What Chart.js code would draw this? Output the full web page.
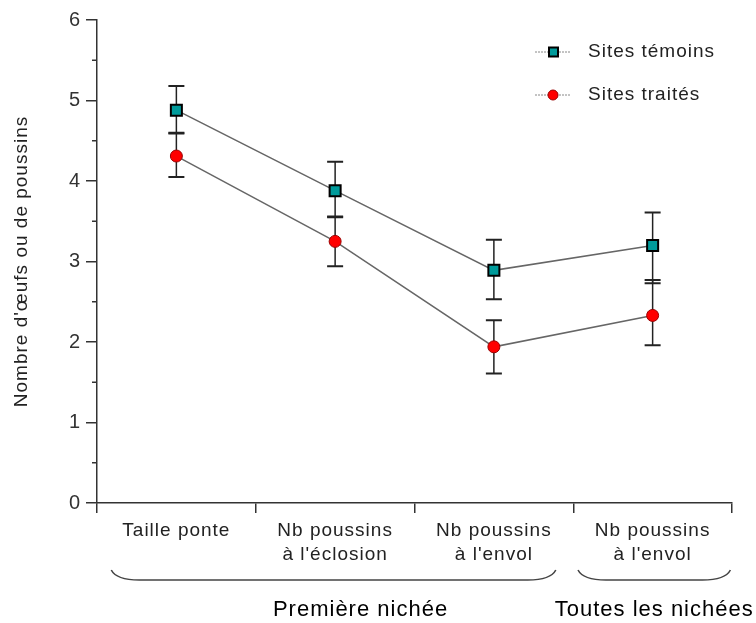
<!DOCTYPE html>
<html>
<head>
  <title>Nombre d'oeufs ou de poussins</title>
  <script src="https://cdn.jsdelivr.net/npm/chart.js"></script>
  <style>
    body { margin: 0; background: #fff; }
    #wrap { width: 756px; height: 623px; }
  </style>
</head>
<body>
  <div id="wrap"><canvas id="nichees" width="756" height="623"></canvas></div>

  <script>
    const categories = [['Taille ponte'], ['Nb poussins', "à l'éclosion"], ['Nb poussins', "à l'envol"], ['Nb poussins', "à l'envol"]];
    const temoins = [4.88, 3.88, 2.89, 3.20];
    const temoinsHigh = [5.18, 4.24, 3.27, 3.61];
    const temoinsLow = [4.60, 3.55, 2.53, 2.73];
    const traites = [4.31, 3.25, 1.94, 2.33];
    const traitesHigh = [4.59, 3.56, 2.27, 2.77];
    const traitesLow = [4.05, 2.94, 1.61, 1.96];
    const groups = [
      { label: 'Première nichée', from: 0, to: 2 },
      { label: 'Toutes les nichées', from: 3, to: 3 }
    ];

    const errors = [
      { high: temoinsHigh, low: temoinsLow },
      { high: traitesHigh, low: traitesLow }
    ];

    const extras = {
      id: 'extras',
      beforeLayout(chart) { chart.ctx.letterSpacing = '1px'; },
      beforeDraw(chart) { chart.ctx.letterSpacing = '1px'; },
      beforeDatasetsDraw(chart) {
        const ctx = chart.ctx, x = chart.scales.x, y = chart.scales.y;
        ctx.save();
        ctx.strokeStyle = '#222';
        errors.forEach(e => {
          e.high.forEach((hi, i) => {
            const px = x.getPixelForValue(i);
            const top = y.getPixelForValue(hi), bot = y.getPixelForValue(e.low[i]);
            ctx.lineWidth = 1.5;
            ctx.beginPath(); ctx.moveTo(px, top); ctx.lineTo(px, bot); ctx.stroke();
            ctx.lineWidth = 2;
            ctx.beginPath();
            ctx.moveTo(px - 8, top); ctx.lineTo(px + 8, top);
            ctx.moveTo(px - 8, bot); ctx.lineTo(px + 8, bot);
            ctx.stroke();
          });
        });
        ctx.restore();
      },
      afterDraw(chart) {
        const ctx = chart.ctx, x = chart.scales.x, y = chart.scales.y;
        const axisY = chart.chartArea.bottom;
        ctx.save();
        // minor ticks on y
        ctx.strokeStyle = '#333';
        ctx.lineWidth = 1.5;
        for (let v = 0.5; v < 6; v += 1) {
          const py = y.getPixelForValue(v);
          ctx.beginPath(); ctx.moveTo(x.left - 5, py); ctx.lineTo(x.left, py); ctx.stroke();
        }
        // braces under category groups
        const step = x.getPixelForValue(1) - x.getPixelForValue(0);
        const braceTop = axisY + 67, braceBot = axisY + 77;
        const ends = [[-0.41, 0.39], [-0.47, 0.49]];
        const labelShift = [0.16, 0.01];
        groups.forEach((g, k) => {
          const x0 = x.getPixelForValue(g.from) + ends[k][0] * step;
          const x1 = x.getPixelForValue(g.to) + ends[k][1] * step;
          ctx.strokeStyle = '#444';
          ctx.lineWidth = 1.6;
          ctx.beginPath();
          ctx.moveTo(x0, braceTop);
          ctx.quadraticCurveTo(x0 + 5, braceBot, x0 + 28, braceBot);
          ctx.lineTo(x1 - 28, braceBot);
          ctx.quadraticCurveTo(x1 - 5, braceBot, x1, braceTop);
          ctx.stroke();
          const mid = (x.getPixelForValue(g.from) + x.getPixelForValue(g.to)) / 2 + labelShift[k] * step;
          ctx.fillStyle = '#000';
          ctx.font = '22px "Liberation Sans", Arial, sans-serif';
          ctx.textAlign = 'center';
          ctx.textBaseline = 'middle';
          ctx.fillText(g.label, mid, axisY + 107);
        });
        // legend
        chart.data.datasets.forEach((ds, k) => {
          const ly = 52 + k * 43;
          ctx.strokeStyle = '#888';
          ctx.lineWidth = 1;
          ctx.setLineDash([2, 1]);
          ctx.beginPath(); ctx.moveTo(535, ly); ctx.lineTo(571, ly); ctx.stroke();
          ctx.setLineDash([]);
          ctx.fillStyle = ds.pointBackgroundColor;
          ctx.strokeStyle = ds.pointBorderColor;
          ctx.lineWidth = ds.pointBorderWidth;
          ctx.beginPath();
          if (ds.pointStyle === 'rect') ctx.rect(549, ly - 4.5, 9, 9);
          else ctx.arc(553, ly, 5, 0, Math.PI * 2);
          ctx.fill(); ctx.stroke();
          ctx.fillStyle = '#222';
          ctx.font = '19px "Liberation Sans", Arial, sans-serif';
          ctx.textAlign = 'left';
          ctx.textBaseline = 'middle';
          ctx.fillText(ds.label, 588, ly);
        });
        ctx.restore();
      }
    };

    const chart = new Chart(document.getElementById('nichees'), {
      type: 'line',
      data: {
        labels: categories,
        datasets: [
          {
            label: 'Sites témoins', data: temoins,
            borderColor: '#666', borderWidth: 1.5, tension: 0,
            pointStyle: 'rect', pointRadius: 7.8, pointHoverRadius: 7.8,
            pointBackgroundColor: '#009b9b', pointBorderColor: '#000', pointBorderWidth: 2
          },
          {
            label: 'Sites traités', data: traites,
            borderColor: '#666', borderWidth: 1.5, tension: 0,
            pointStyle: 'circle', pointRadius: 6, pointHoverRadius: 6,
            pointBackgroundColor: '#ff0000', pointBorderColor: '#990000', pointBorderWidth: 1
          }
        ]
      },
      options: {
        responsive: false,
        animation: false,
        devicePixelRatio: 1,
        layout: { padding: { left: 0, right: 24, top: 20, bottom: 0 } },
        plugins: { legend: { display: false }, tooltip: { enabled: false } },
        scales: {
          x: {
            offset: true,
            grid: { offset: true, drawOnChartArea: false, drawTicks: true, tickLength: 10, color: '#333', lineWidth: 1.5 },
            border: { color: '#333', width: 1.5 },
            ticks: { padding: 5, color: '#222', maxRotation: 0, autoSkip: false,
              font: { family: '"Liberation Sans", Arial, sans-serif', size: 19, lineHeight: 1.3 } },
            afterFit(scale) { scale.height = 120; }
          },
          y: {
            min: 0, max: 6,
            grid: { drawOnChartArea: false, drawTicks: true, tickLength: 11, color: '#333', lineWidth: 1.5 },
            border: { color: '#333', width: 1.5 },
            ticks: { stepSize: 1, padding: 5, color: '#333',
              font: { family: '"Liberation Sans", Arial, sans-serif', size: 20 } },
            title: { display: true, text: "Nombre d'œufs ou de poussins", color: '#222',
              padding: { top: 10, bottom: 0 },
              font: { family: '"Liberation Sans", Arial, sans-serif', size: 19, lineHeight: 1.2 } },
            afterFit(scale) { scale.width = 97; }
          }
        }
      },
      plugins: [extras]
    });
  </script>
</body>
</html>
